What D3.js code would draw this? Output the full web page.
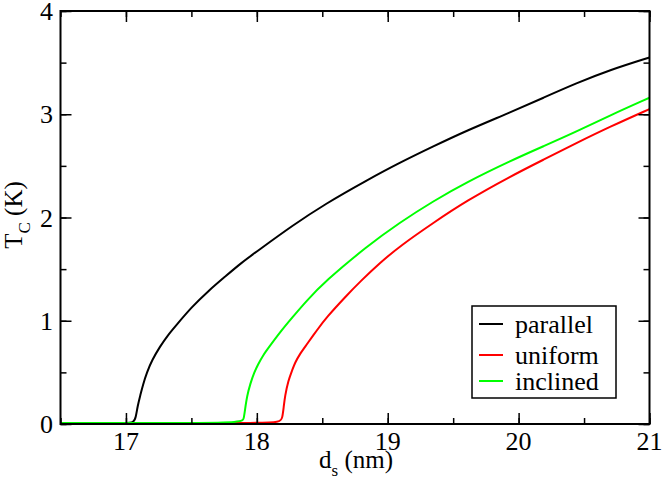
<!DOCTYPE html>
<html>
<head>
<meta charset="utf-8">
<script src="https://cdn.jsdelivr.net/npm/d3@7"></script>
</head>
<body style="margin:0">
<svg id="chart" width="664" height="491" style="font-family: 'Times New Roman'"></svg>
<script>
// values
var parallelX = [16.5, 16.8, 17.0, 17.06, 17.075, 17.09, 17.11, 17.13, 17.16, 17.20, 17.26, 17.32, 17.38, 17.50, 17.63, 17.76, 17.88, 18.01, 18.27, 18.52, 18.84, 19.09, 19.35, 19.60, 19.94, 20.19, 20.44, 20.70, 21.0];
var parallelY = [0.01, 0.01, 0.01, 0.015, 0.06, 0.18, 0.28, 0.38, 0.50, 0.62, 0.75, 0.86, 0.95, 1.13, 1.29, 1.43, 1.56, 1.68, 1.92, 2.13, 2.36, 2.53, 2.69, 2.84, 3.02, 3.16, 3.30, 3.43, 3.55];

var uniformX = [16.5, 17.0, 17.5, 18.0, 18.18, 18.195, 18.205, 18.215, 18.24, 18.27, 18.29, 18.33, 18.37, 18.46, 18.53, 18.69, 18.79, 18.94, 19.09, 19.35, 19.60, 19.94, 20.19, 20.44, 20.70, 21.0];
var uniformY = [0.01, 0.01, 0.01, 0.01, 0.015, 0.06, 0.16, 0.27, 0.42, 0.52, 0.59, 0.68, 0.75, 0.91, 1.03, 1.25, 1.38, 1.56, 1.72, 1.95, 2.16, 2.40, 2.56, 2.72, 2.88, 3.05];

var inclinedX = [16.5, 17.0, 17.5, 17.89, 17.90, 17.91, 17.925, 17.95, 17.98, 18.01, 18.05, 18.09, 18.19, 18.27, 18.37, 18.52, 18.84, 19.09, 19.35, 19.60, 19.94, 20.19, 20.44, 20.70, 21.0];
var inclinedY = [0.01, 0.01, 0.01, 0.015, 0.05, 0.14, 0.27, 0.39, 0.50, 0.58, 0.67, 0.74, 0.91, 1.03, 1.18, 1.38, 1.72, 1.95, 2.16, 2.34, 2.55, 2.69, 2.83, 2.99, 3.16];

var xTicks = [17, 18, 19, 20, 21];
var yTicks = [0, 1, 2, 3, 4];
var seriesNames = ["parallel", "uniform", "inclined"];
var seriesColors = ["#000000", "#ff0000", "#00ff00"];

var fontFam = "'Times New Roman'";
var svg = d3.select("#chart");
// plot box (don't call these top/left: window.top is read-only)
var plotL = 60.5, plotR = 649.5, plotT = 11, plotB = 424;

var x = d3.scaleLinear().domain([16.5, 21]).range([plotL, plotR]);
var y = d3.scaleLinear().domain([0, 4]).range([plotB, plotT]);

function zip(xs, ys) {
  return xs.map(function(v, i) { return [v, ys[i]]; });
}
var series = [zip(parallelX, parallelY), zip(uniformX, uniformY), zip(inclinedX, inclinedY)];

var line = d3.line()
  .x(function(d) { return x(d[0]); })
  .y(function(d) { return y(d[1]); })
  .curve(d3.curveBasis);

// curves (black, red, then green on top)
svg.append("g").selectAll("path")
  .data(series)
  .enter().append("path")
  .attr("d", line)
  .attr("fill", "none")
  .attr("stroke", function(d, i) { return seriesColors[i]; })
  .attr("stroke-width", 2);

// ticks pointing inward, on all four sides
var minorX = d3.range(16.5, 21.01, 0.5);
var minorY = d3.range(0, 4.01, 0.5);

function tickAxis(axisFn, scale, vals, size) {
  return axisFn(scale).tickValues(vals).tickSize(size).tickFormat("");
}
var axes = svg.append("g");
axes.append("g").attr("transform", "translate(0," + plotB + ")").call(tickAxis(d3.axisTop, x, minorX, 6));
axes.append("g").attr("transform", "translate(0," + plotB + ")").call(tickAxis(d3.axisTop, x, xTicks, 11));
axes.append("g").attr("transform", "translate(0," + plotT + ")").call(tickAxis(d3.axisBottom, x, minorX, 6));
axes.append("g").attr("transform", "translate(0," + plotT + ")").call(tickAxis(d3.axisBottom, x, xTicks, 11));
axes.append("g").attr("transform", "translate(" + plotL + ",0)").call(tickAxis(d3.axisRight, y, minorY, 6));
axes.append("g").attr("transform", "translate(" + plotL + ",0)").call(tickAxis(d3.axisRight, y, yTicks, 11));
axes.append("g").attr("transform", "translate(" + plotR + ",0)").call(tickAxis(d3.axisLeft, y, minorY, 6));
axes.append("g").attr("transform", "translate(" + plotR + ",0)").call(tickAxis(d3.axisLeft, y, yTicks, 11));
axes.selectAll(".domain").remove();
axes.selectAll(".tick text").remove();
axes.selectAll(".tick line").attr("stroke", "#000").attr("stroke-width", 1.5);

// frame
svg.append("rect")
  .attr("x", plotL).attr("y", plotT)
  .attr("width", plotR - plotL).attr("height", plotB - plotT)
  .attr("fill", "none").attr("stroke", "#000").attr("stroke-width", 2);

// tick labels
svg.selectAll("text.xl")
  .data(xTicks)
  .enter().append("text")
  .attr("class", "xl")
  .attr("x", function(d) { return x(d); })
  .attr("y", 450)
  .attr("text-anchor", "middle")
  .attr("font-size", 26)
  .style("font-family", fontFam)
  .text(function(d) { return d; });

svg.selectAll("text.yl")
  .data(yTicks)
  .enter().append("text")
  .attr("class", "yl")
  .attr("x", 53)
  .attr("y", function(d) { return y(d) + 9; })
  .attr("text-anchor", "end")
  .attr("font-size", 26)
  .style("font-family", fontFam)
  .text(function(d) { return d; });

// axis titles
var xt = svg.append("text")
  .attr("x", 356).attr("y", 468)
  .attr("text-anchor", "middle")
  .attr("font-size", 25)
  .style("font-family", fontFam);
xt.append("tspan").text("d");
xt.append("tspan").attr("font-size", 17).attr("dy", 8).text("s");
xt.append("tspan").attr("dy", -8).text(" (nm)");

var yt = svg.append("text")
  .attr("transform", "translate(22,215) rotate(-90)")
  .attr("text-anchor", "middle")
  .attr("font-size", 25)
  .style("font-family", fontFam);
yt.append("tspan").text("T");
yt.append("tspan").attr("font-size", 17).attr("dy", 8).text("C");
yt.append("tspan").attr("dy", -8).text(" (K)");

// legend
svg.append("rect")
  .attr("x", 472).attr("y", 306)
  .attr("width", 144).attr("height", 92)
  .attr("fill", "#fff").attr("stroke", "#000").attr("stroke-width", 1.5);

var rowY = [324, 355, 381];
svg.selectAll("line.key")
  .data(seriesNames)
  .enter().append("line")
  .attr("class", "key")
  .attr("x1", 479).attr("x2", 503)
  .attr("y1", function(d, i) { return rowY[i]; })
  .attr("y2", function(d, i) { return rowY[i]; })
  .attr("stroke", function(d, i) { return seriesColors[i]; })
  .attr("stroke-width", 2);
svg.selectAll("text.key")
  .data(seriesNames)
  .enter().append("text")
  .attr("class", "key")
  .attr("x", 515)
  .attr("y", function(d, i) { return rowY[i] + 9; })
  .attr("font-size", 26)
  .style("font-family", fontFam)
  .text(function(d) { return d; });
</script>
</body>
</html>
